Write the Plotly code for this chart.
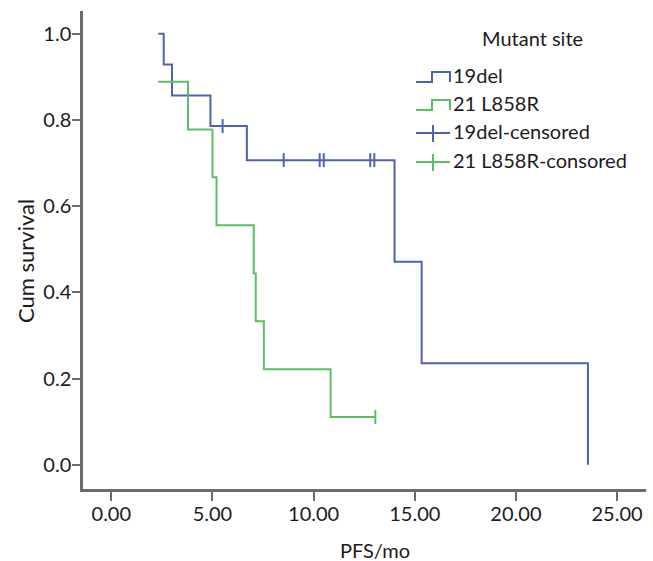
import plotly.graph_objects as go

# ---- data ----
del19_time = [2.32, 2.59, 3.00, 4.90, 6.70, 14.00, 15.34, 23.56]
del19_surv = [1.000, 0.929, 0.857, 0.786, 0.707, 0.471, 0.236, 0.000]
del19_cens_time = [5.50, 8.52, 10.30, 10.50, 12.80, 13.00]
del19_cens_surv = [0.786, 0.707, 0.707, 0.707, 0.707, 0.707]

l858r_time = [2.32, 3.79, 5.00, 5.20, 7.04, 7.14, 7.54, 10.84, 13.05]
l858r_surv = [0.889, 0.778, 0.667, 0.556, 0.444, 0.333, 0.222, 0.111, 0.111]
l858r_cens_time = [13.05]
l858r_cens_surv = [0.111]

x_ticks = [0, 5, 10, 15, 20, 25]
y_ticks = [0.0, 0.2, 0.4, 0.6, 0.8, 1.0]
x_title = "PFS/mo"
y_title = "Cum survival"
legend_title = "Mutant site"
legend_labels = ["19del", "21 L858R", "19del-censored", "21 L858R-consored"]

BLUE = "#4d62b4"
GREEN = "#5cbf68"
TXT = "#1e1a1b"
AX = "#6b6b6b"
FONT = "Lato"
FS = 20

W, H = 653, 561
ML, MR, MT, MB = 83, 7, 11, 72
PW, PH = W - ML - MR, H - MT - MB


def px(x):
    return (x - ML) / PW


def py(y):
    return (H - MB - y) / PH


fig = go.Figure()
fig.add_trace(go.Scatter(x=del19_time, y=del19_surv, mode="lines",
                         line=dict(color=BLUE, width=2, shape="hv"),
                         name=legend_labels[0], showlegend=False))
fig.add_trace(go.Scatter(x=l858r_time, y=l858r_surv, mode="lines",
                         line=dict(color=GREEN, width=2, shape="hv"),
                         name=legend_labels[1], showlegend=False))
fig.add_trace(go.Scatter(x=del19_cens_time, y=del19_cens_surv, mode="markers",
                         marker=dict(symbol="line-ns-open", size=10, color=BLUE,
                                     line=dict(color=BLUE, width=2)),
                         name=legend_labels[2], showlegend=False))
fig.add_trace(go.Scatter(x=l858r_cens_time, y=l858r_cens_surv, mode="markers",
                         marker=dict(symbol="line-ns-open", size=10, color=GREEN,
                                     line=dict(color=GREEN, width=2)),
                         name=legend_labels[3], showlegend=False))

# ---- custom legend ----
shapes = []
annotations = []
annotations.append(dict(x=px(532), y=py(38), xref="paper", yref="paper",
                        text=legend_title, showarrow=False,
                        font=dict(family=FONT, size=FS, color=TXT),
                        xanchor="center", yanchor="middle"))
item_y = [75, 103, 131, 160]
colors = [BLUE, GREEN, BLUE, GREEN]
for i, (lab, c, yy) in enumerate(zip(legend_labels, colors, item_y)):
    annotations.append(dict(x=px(453), y=py(yy), xref="paper", yref="paper",
                            text=lab, showarrow=False,
                            font=dict(family=FONT, size=FS, color=TXT),
                            xanchor="left", yanchor="middle", xshift=-2))
    if i < 2:
        yb = yy + 7
        yt = yy - 3
        path = (f"M {px(416)},{py(yb)} L {px(432)},{py(yb)} L {px(432)},{py(yt)} "
                f"L {px(450)},{py(yt)} L {px(450)},{py(yb)}")
        shapes.append(dict(type="path", path=path, xref="paper", yref="paper",
                           line=dict(color=c, width=2)))
    else:
        ym = yy + 2
        shapes.append(dict(type="line", xref="paper", yref="paper",
                           x0=px(416), x1=px(450), y0=py(ym), y1=py(ym),
                           line=dict(color=c, width=2)))
        shapes.append(dict(type="line", xref="paper", yref="paper",
                           x0=px(433), x1=px(433), y0=py(ym - 8), y1=py(ym + 9),
                           line=dict(color=c, width=2)))

# axis titles
annotations.append(dict(x=px(375), y=py(550), xref="paper", yref="paper",
                        text=x_title, showarrow=False,
                        font=dict(family=FONT, size=FS, color=TXT),
                        xanchor="center", yanchor="middle"))
annotations.append(dict(x=px(25), y=py(261), xref="paper", yref="paper",
                        text=y_title, showarrow=False, textangle=-90,
                        font=dict(family=FONT, size=22, color=TXT),
                        xanchor="center", yanchor="middle"))

fig.update_layout(
    width=W, height=H,
    margin=dict(l=ML, r=MR, t=MT, b=MB, pad=0, autoexpand=False),
    paper_bgcolor="white", plot_bgcolor="white",
    font=dict(family=FONT, size=FS, color=TXT),
    shapes=shapes, annotations=annotations,
    showlegend=False,
)
fig.update_xaxes(range=[-1.40, 26.43], tickvals=x_ticks, tickformat=".2f",
                 automargin=False,
                 showgrid=False, zeroline=False,
                 showline=True, linecolor=AX, linewidth=2.5,
                 ticks="outside", ticklen=9, tickwidth=2, tickcolor=AX,
                 ticklabelstandoff=-4,
                 tickfont=dict(family=FONT, size=FS, color=TXT))
fig.update_yaxes(range=[-0.056, 1.053], tickvals=y_ticks, tickformat=".1f",
                 automargin=False,
                 showgrid=False, zeroline=False,
                 showline=True, linecolor=AX, linewidth=2.5,
                 ticks="outside", ticklen=8, tickwidth=2, tickcolor=AX,
                 ticklabelstandoff=-3,
                 tickfont=dict(family=FONT, size=FS, color=TXT))

fig.write_html("out.html", config={"displayModeBar": False},
               post_script="document.body.style.margin='0';document.body.style.overflow='hidden';")
